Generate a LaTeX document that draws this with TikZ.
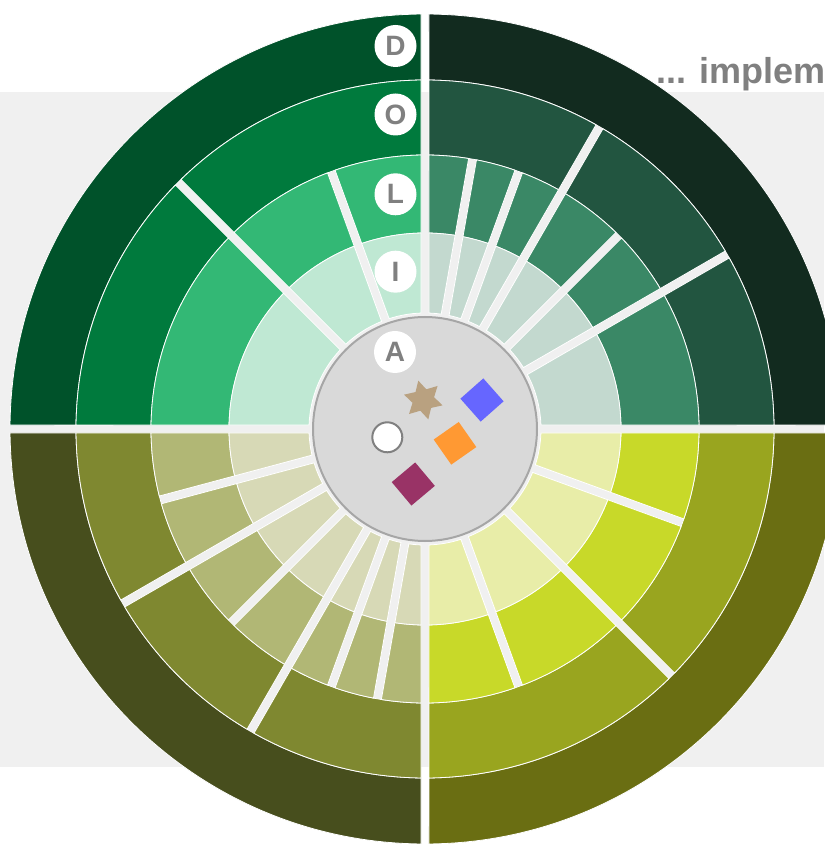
\documentclass[tikz,border=0pt]{standalone}
\usepackage{fontspec}
\setmainfont{Liberation Sans}
\usetikzlibrary{shapes.geometric}

\definecolor{paneGray}{HTML}{F0F0F0}
\definecolor{textGray}{HTML}{808080}
\definecolor{coreGray}{HTML}{D9D9D9}
\definecolor{coreEdge}{HTML}{A6A6A6}
% top left quadrant
\definecolor{tlD}{HTML}{00522A}
\definecolor{tlO}{HTML}{007A3D}
\definecolor{tlL}{HTML}{33B875}
\definecolor{tlI}{HTML}{BFE8D3}
% top right quadrant
\definecolor{trD}{HTML}{122B1F}
\definecolor{trO}{HTML}{225540}
\definecolor{trL}{HTML}{3A8866}
\definecolor{trI}{HTML}{C3D9CF}
% bottom left quadrant
\definecolor{blD}{HTML}{474E1D}
\definecolor{blO}{HTML}{7F8830}
\definecolor{blL}{HTML}{B1B775}
\definecolor{blI}{HTML}{D7D9B6}
% bottom right quadrant
\definecolor{brD}{HTML}{6A6E12}
\definecolor{brO}{HTML}{99A51F}
\definecolor{brL}{HTML}{C8D929}
\definecolor{brI}{HTML}{E8EDA8}
% markers
\definecolor{markBlue}{HTML}{6666FF}
\definecolor{markOrange}{HTML}{FF9933}
\definecolor{markPlum}{HTML}{993366}
\definecolor{markTan}{HTML}{B9A180}

\def\segGap{4}
% one ring segment: start angle, end angle, inner radius, outer radius, colour
\newcommand{\ringseg}[5]{%
  \filldraw[fill=#5, draw=white, line width=0.4pt]
    ({#1+asin(\segGap/#4)}:#4) arc[start angle={#1+asin(\segGap/#4)}, end angle={#2-asin(\segGap/#4)}, radius=#4]
    -- ({#2-asin(\segGap/#3)}:#3) arc[start angle={#2-asin(\segGap/#3)}, end angle={#1+asin(\segGap/#3)}, radius=#3]
    -- cycle;}
\newcommand{\ringpart}[4]{\foreach \a/\b in {#4} {\ringseg{\a}{\b}{#1}{#2}{#3}}}

\begin{document}
\begin{tikzpicture}[x=0.5pt, y=0.5pt,
    letter/.style = {circle, fill=white, minimum size=21pt, inner sep=0pt, text=textGray, font=\fontsize{14}{14}\selectfont\bfseries},
    tile/.style = {rectangle, minimum size=15.3pt, inner sep=0pt}]
\useasboundingbox (-425,-415) rectangle (399,429);
\fill[white] (-425,-415) rectangle (399,429);
\fill[paneGray] (-425,-338) rectangle (399,337);
\node[anchor=base west, inner sep=0pt, text=textGray, font=\fontsize{18}{18}\selectfont\bfseries] (title) at (231,345.7) {... implem};

% top left
\ringpart{349}{415}{tlD}{90/180}
\ringpart{274}{349}{tlO}{90/135,135/180}
\ringpart{196}{274}{tlL}{90/110,110/135,135/180}
\ringpart{116}{196}{tlI}{90/110,110/135,135/180}
% top right
\ringpart{349}{415}{trD}{0/90}
\ringpart{274}{349}{trO}{0/30,30/60,60/90}
\ringpart{196}{274}{trL}{0/30,30/45,45/60,60/70,70/80,80/90}
\ringpart{116}{196}{trI}{0/30,30/45,45/60,60/70,70/80,80/90}
% bottom left
\ringpart{349}{415}{blD}{180/270}
\ringpart{274}{349}{blO}{180/210,210/240,240/270}
\ringpart{196}{274}{blL}{180/195,195/210,210/225,225/240,240/250,250/260,260/270}
\ringpart{116}{196}{blI}{180/195,195/210,210/225,225/240,240/250,250/260,260/270}
% bottom right
\ringpart{349}{415}{brD}{270/360}
\ringpart{274}{349}{brO}{270/315,315/360}
\ringpart{196}{274}{brL}{270/290,290/315,315/340,340/360}
\ringpart{116}{196}{brI}{270/290,290/315,315/340,340/360}

\node[circle, fill=coreGray, draw=coreEdge, line width=1pt, minimum size=112pt, inner sep=0pt] (core) at (0,0) {};

\node[letter] (D) at (-29.5,383) {D};
\node[letter] (O) at (-29.5,314.5) {O};
\node[letter] (L) at (-29.5,234.7) {L};
\node[letter] (I) at (-29.5,157.3) {I};
\node[letter] (A) at (-30,77) {A};

\node[star, star points=6, star point ratio=1.8, minimum size=20pt, inner sep=0pt, fill=markTan, rotate=14.5] (star) at (-1.7,29) {};
\node[tile, fill=markBlue, rotate=41.5] (blue) at (57,29) {};
\node[tile, fill=markOrange, rotate=35] (orange) at (30,-14.3) {};
\node[tile, fill=markPlum, rotate=40] (plum) at (-11.7,-55) {};
\node[circle, fill=white, draw=textGray, line width=1pt, minimum size=15pt, inner sep=0pt] (dot) at (-37.7,-8.3) {};
\end{tikzpicture}
\end{document}
